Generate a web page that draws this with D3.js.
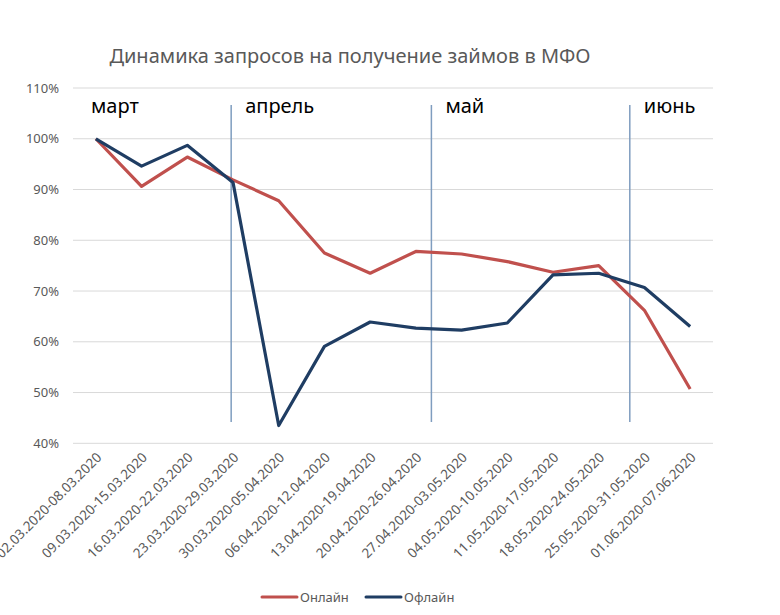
<!DOCTYPE html>
<html>
<head>
<meta charset="utf-8">
<script src="https://cdn.jsdelivr.net/npm/d3@7"></script>
<style>
  body { margin: 0; background: #fff; }
  svg { font-family: "Noto Sans", "Open Sans", sans-serif; }
</style>
</head>
<body>
<svg id="chart" width="780" height="615"></svg>
<script>
// data
const weeks = [
  "02.03.2020-08.03.2020", "09.03.2020-15.03.2020", "16.03.2020-22.03.2020",
  "23.03.2020-29.03.2020", "30.03.2020-05.04.2020", "06.04.2020-12.04.2020",
  "13.04.2020-19.04.2020", "20.04.2020-26.04.2020", "27.04.2020-03.05.2020",
  "04.05.2020-10.05.2020", "11.05.2020-17.05.2020", "18.05.2020-24.05.2020",
  "25.05.2020-31.05.2020", "01.06.2020-07.06.2020"
];
const online = [100, 90.6, 96.4, 91.9, 87.8, 77.5, 73.5, 77.8, 77.3, 75.8, 73.7, 75.0, 66.2, 50.7];
const offline = [100, 94.6, 98.7, 91.4, 43.5, 59.1, 63.9, 62.7, 62.3, 63.7, 73.2, 73.5, 70.7, 63.0];
const yTicks = [40, 50, 60, 70, 80, 90, 100, 110];
// month separators, in week-index units
const months = ["март", "апрель", "май", "июнь"];
const monthLines = [2.96, 7.34, 11.68];

const svg = d3.select("#chart");
const margin = { left: 73, right: 67, top: 88, bottom: 172 };
const width = +svg.attr("width");
const height = +svg.attr("height");

const x = d3.scalePoint()
    .domain(weeks)
    .range([margin.left, width - margin.right])
    .padding(0.5);

// linear scale on index for the month separators
const xi = d3.scaleLinear()
    .domain([0, weeks.length - 1])
    .range([x(weeks[0]), x(weeks[weeks.length - 1])]);

const y = d3.scaleLinear()
    .domain([40, 110])
    .range([height - margin.bottom + 0.3, margin.top]);

// title
svg.append("text")
    .attr("x", 350)
    .attr("y", 63)
    .attr("text-anchor", "middle")
    .attr("fill", "#595959")
    .style("font-size", "20px")
    .text("Динамика запросов на получение займов в МФО");

// grid
svg.append("g")
    .selectAll("line")
    .data(yTicks)
    .join("line")
    .attr("x1", margin.left)
    .attr("x2", width - margin.right)
    .attr("y1", d => y(d))
    .attr("y2", d => y(d))
    .attr("stroke", "#d9d9d9")
    .attr("stroke-width", 1);

// y axis labels
const yAxis = svg.append("g")
    .attr("transform", `translate(${margin.left},0)`)
    .call(d3.axisLeft(y).tickValues(yTicks).tickFormat(d => d + "%").tickSize(0).tickPadding(14));
yAxis.select(".domain").remove();
yAxis.selectAll("text")
    .attr("fill", "#595959")
    .style("font-size", "13px")
    .style("font-family", "'Noto Sans', sans-serif");

// x axis labels
const xAxis = svg.append("g")
    .attr("transform", `translate(0,${y(40)})`)
    .call(d3.axisBottom(x).tickSize(0).tickPadding(0));
xAxis.select(".domain").remove();
xAxis.selectAll("text")
    .attr("fill", "#595959")
    .style("font-size", "13.5px")
    .style("font-family", "'Liberation Sans Narrow', 'Noto Sans', sans-serif")
    .attr("text-anchor", "end")
    .attr("dy", null)
    .attr("transform", "translate(6,15) rotate(-45)");

// month separators
svg.append("g")
    .selectAll("line")
    .data(monthLines)
    .join("line")
    .attr("x1", d => xi(d))
    .attr("x2", d => xi(d))
    .attr("y1", 105)
    .attr("y2", 422)
    .attr("stroke", "#7f9dbf")
    .attr("stroke-width", 1.5);

// month labels
const monthX = [0, ...monthLines];
svg.append("g")
    .selectAll("text")
    .data(months)
    .join("text")
    .attr("x", (d, i) => i === 0 ? 91 : xi(monthX[i]) + 14)
    .attr("y", 113)
    .attr("fill", "#000")
    .style("font-size", "20px")
    .text(d => d);

// lines
const line = d3.line()
    .x((d, i) => x(weeks[i]))
    .y(d => y(d));

const series = [
  { name: "Онлайн", values: online, color: "#c0504d" },
  { name: "Офлайн", values: offline, color: "#1f3d63" }
];

svg.append("g")
    .selectAll("path")
    .data(series)
    .join("path")
    .attr("d", d => line(d.values))
    .attr("fill", "none")
    .attr("stroke", d => d.color)
    .attr("stroke-width", 3.2)
    .attr("stroke-linejoin", "round");

// legend
const legend = svg.append("g")
    .selectAll("g")
    .data(series)
    .join("g")
    .attr("transform", (d, i) => `translate(${262 + i * 104},597)`);
legend.append("line")
    .attr("x1", 0).attr("x2", 35)
    .attr("stroke", d => d.color)
    .attr("stroke-width", 3)
    .attr("stroke-linecap", "round");
legend.append("text")
    .attr("x", 38)
    .attr("dy", "0.35em")
    .attr("fill", "#595959")
    .style("font-size", "13px")
    .text(d => d.name);
</script>
</body>
</html>
